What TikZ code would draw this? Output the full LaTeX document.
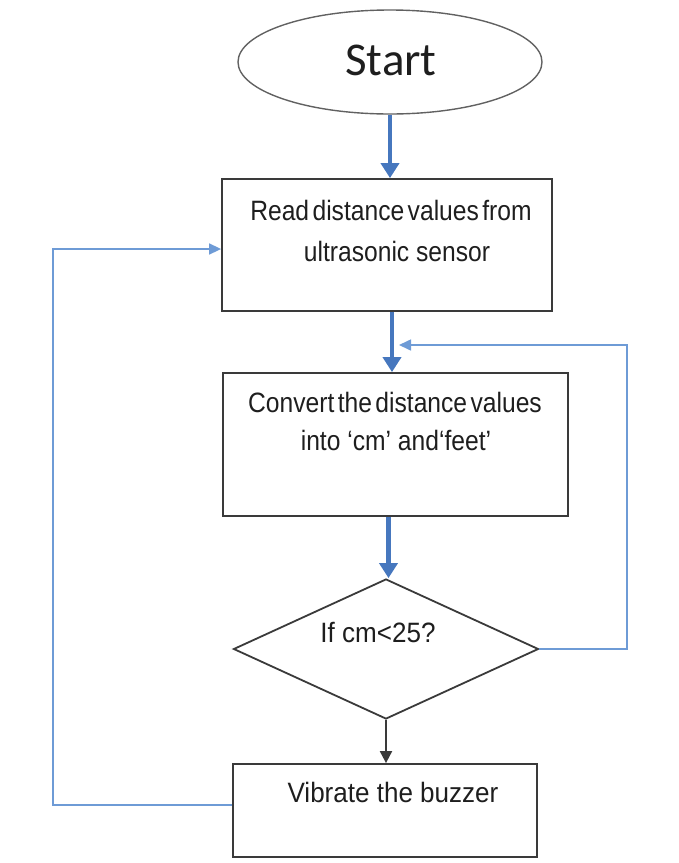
\documentclass[tikz,border=0pt]{standalone}
\usepackage{fontspec}
\usetikzlibrary{shapes.geometric,arrows.meta}
\newfontfamily\startfont{Carlito}
\newfontfamily\boxfont{Liberation Sans}[FakeStretch=0.88]
\newfontfamily\boxfontwide{Liberation Sans}[FakeStretch=0.93]
\newcommand\tightwords{\spaceskip=3.4pt plus 1pt\relax}
\definecolor{flowblue}{HTML}{4677BE}
\definecolor{loopblue}{HTML}{6E9BD6}
\definecolor{edge}{HTML}{3A3A3A}
\definecolor{ink}{HTML}{1E1E1E}
\tikzset{
  stepbox/.style={draw=edge, line width=1.8pt, rectangle, inner sep=0pt},
  spacedlabel/.style={inner sep=0pt, text=ink, font=\boxfont\fontsize{28}{32}\selectfont},
  label/.style={spacedlabel, execute at begin node=\tightwords},
  widelabel/.style={spacedlabel, font=\boxfontwide\fontsize{28}{32}\selectfont},
  mainarrow/.style={draw=flowblue, line width=4.5pt,
    -{Triangle[length=15pt, width=18pt]}},
  looparrow/.style={draw=loopblue, line width=1.6pt,
    -{Triangle[length=12pt, width=11pt]}},
  blackarrow/.style={draw=edge, line width=2pt,
    -{Triangle[length=12pt, width=12pt]}},
}
\begin{document}
\begin{tikzpicture}[x=1pt, y=-1pt]
  \useasboundingbox (0,0) rectangle (679,863);

  % terminal
  \node[draw=edge!80, line width=1.4pt, ellipse, minimum width=304pt,
        minimum height=104pt, inner sep=0pt] (start) at (390,62) {};
  \node[inner sep=0pt, text=ink, font=\startfont\fontsize{47}{52}\selectfont]
        (starttxt) at (391,60) {Start};

  % process boxes
  \node[stepbox, minimum width=330pt, minimum height=132pt] (box1) at (387,245) {};
  \node[label] (box1a) at (391,210) {Read distance values from};
  \node[spacedlabel] (box1b) at (397,251) {ultrasonic sensor};

  \node[stepbox, minimum width=345pt, minimum height=143pt] (box2) at (395.5,444.5) {};
  \node[label] (box2a) at (395,402) {Convert the distance values};
  \node[spacedlabel] (box2b) at (396,440) {into ‘cm’ and‘feet’};

  % decision
  \node[draw=edge, line width=1.8pt, diamond, minimum width=305pt,
        minimum height=140pt, inner sep=0pt] (dia) at (386,649) {};
  \node[widelabel] (diatxt) at (378,632) {If cm<25?};

  % output box
  \node[stepbox, minimum width=304pt, minimum height=93pt] (box3) at (385,810.5) {};
  \node[widelabel] (box3txt) at (393,792) {Vibrate the buzzer};

  % loop-back guide points
  \coordinate (fbL) at (53,0);
  \coordinate (fbR) at (627,0);
  \coordinate (fbEnd) at (399,345);

  % main flow
  \draw[mainarrow] (start.south) -- (start.south |- box1.north);
  \draw[mainarrow] ([xshift=5pt]box1.south) -- ([xshift=5pt]box1.south |- box2.north);
  \draw[mainarrow] ([xshift=-7pt]box2.south) -- ([xshift=-7pt]box2.south |- dia.north);
  \draw[blackarrow] (dia.south) -- (dia.south |- box3.north);

  % loops
  \draw[looparrow] (dia.east) -- (dia.east -| fbR) |- (fbEnd);
  \draw[looparrow] ([yshift=5.5pt]box3.west) -- ([yshift=5.5pt]box3.west -| fbL)
        |- ([yshift=-4pt]box1.west);
\end{tikzpicture}
\end{document}
